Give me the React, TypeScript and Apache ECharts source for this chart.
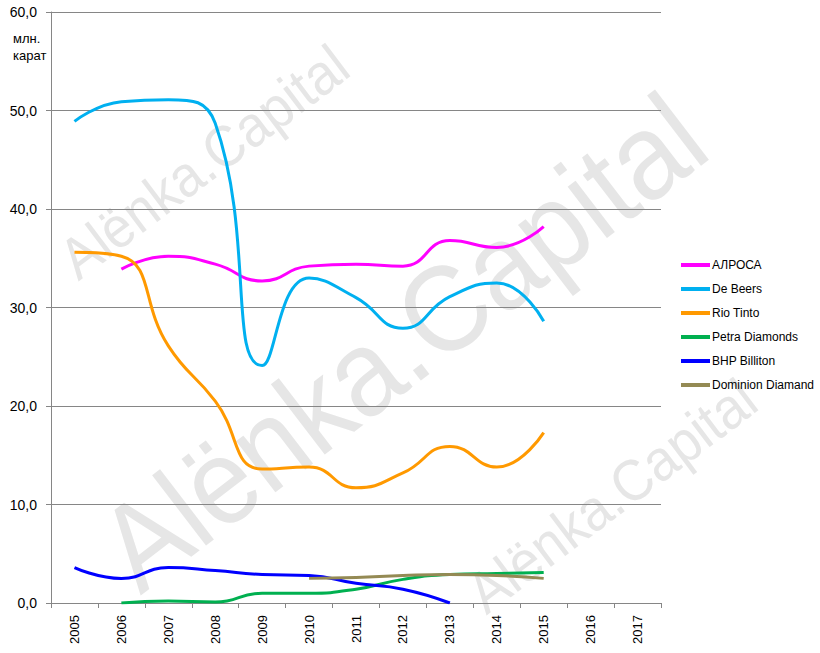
import React, { useEffect, useRef } from "react";
import * as echarts from "echarts";

const years = ["2005", "2006", "2007", "2008", "2009", "2010", "2011", "2012", "2013", "2014", "2015", "2016", "2017"];
const seriesNames = ["АЛРОСА", "De Beers", "Rio Tinto", "Petra Diamonds", "BHP Billiton", "Dominion Diamand"];
const seriesColors = ["#FF00FF", "#00B0F0", "#FF9900", "#00B050", "#0000FF", "#948A54"];
const alrosa = [null, 33.9, 35.2, 34.4, 32.7, 34.2, 34.4, 34.2, 36.8, 36.1, 38.2, null, null];
const deBeers = [48.9, 50.9, 51.1, 48.7, 24.1, 33.0, 31.0, 27.9, 31.1, 32.5, 28.6, null, null];
const rioTinto = [35.6, 35.2, 26.1, 20.5, 13.6, 13.8, 11.7, 13.2, 15.9, 13.8, 17.3, null, null];
const petra = [null, 0.0, 0.2, 0.1, 1.0, 1.0, 1.4, 2.4, 2.9, 3.0, 3.1, null, null];
const bhp = [3.6, 2.5, 3.6, 3.3, 2.9, 2.8, 2.0, 1.4, 0.0, null, null, null, null];
const dominion = [null, null, null, null, null, 2.5, 2.6, 2.8, 2.9, 2.8, 2.5, null, null];
const seriesData = [alrosa, deBeers, rioTinto, petra, bhp, dominion];
const unitLines = ["млн.", "карат"];
const watermarkText = "Alёnka.Capital";

export default function App() {
  const ref = useRef<HTMLDivElement>(null);
  useEffect(() => {
    if (!ref.current) return;
    const chart = echarts.init(ref.current, null, { renderer: "svg" });
    const wmStyle = (size: number) => ({
      text: watermarkText,
      fontSize: size,
      fontFamily: "Liberation Sans, Arial, sans-serif",
      fill: "#e6e6e6",
      align: "center",
      verticalAlign: "middle",
    });
    const deg = Math.PI / 180;
    chart.setOption({
      animation: false,
      backgroundColor: "#ffffff",
      grid: { left: 51, right: 159, top: 12, bottom: 50, containLabel: false },
      xAxis: {
        type: "category",
        data: years,
        boundaryGap: true,
        axisLine: { show: true, lineStyle: { color: "#868686", width: 1 } },
        axisTick: { show: true, length: 5, lineStyle: { color: "#868686" } },
        axisLabel: {
          rotate: 90,
          margin: 12,
          fontSize: 13,
          color: "#000",
          fontFamily: "Liberation Sans, Arial, sans-serif",
        },
        splitLine: { show: false },
      },
      yAxis: {
        type: "value",
        min: 0,
        max: 60,
        interval: 10,
        axisLine: { show: true, lineStyle: { color: "#868686", width: 1 } },
        axisTick: { show: true, length: 5, lineStyle: { color: "#868686" } },
        axisLabel: {
          margin: 14,
          fontSize: 14,
          color: "#000",
          fontFamily: "Liberation Sans, Arial, sans-serif",
          formatter: (v: number) => v.toFixed(1).replace(".", ","),
        },
        splitLine: { show: true, lineStyle: { color: "#868686", width: 1 } },
      },
      legend: {
        orient: "vertical",
        left: 681,
        top: 258,
        padding: 0,
        icon: "rect",
        itemWidth: 29,
        itemHeight: 4,
        itemGap: 10,
        data: seriesNames,
        textStyle: {
          fontSize: 12,
          lineHeight: 14,
          color: "#000",
          fontFamily: "Liberation Sans, Arial, sans-serif",
          padding: [0, 0, 0, -3],
        },
      },
      graphic: [
        { type: "text", x: 402, y: 342, rotation: 37.5 * deg, scaleX: 0.92, z: -10, silent: true, style: wmStyle(122) },
        { type: "text", x: 204, y: 162, rotation: 37 * deg, scaleX: 0.92, z: -10, silent: true, style: wmStyle(58) },
        { type: "text", x: 612, y: 496, rotation: 37 * deg, scaleX: 0.92, z: -10, silent: true, style: wmStyle(58) },
        {
          type: "text",
          left: 13,
          top: 30,
          z: 10,
          style: {
            text: unitLines.join("\n"),
            fontSize: 13,
            lineHeight: 17,
            fill: "#000",
            fontFamily: "Liberation Sans, Arial, sans-serif",
          },
        },
      ],
      series: seriesData.map((d, i) => ({
        name: seriesNames[i],
        type: "line",
        data: d,
        smooth: 0.5,
        showSymbol: false,
        symbol: "none",
        lineStyle: { color: seriesColors[i], width: 3 },
        itemStyle: { color: seriesColors[i] },
        z: 5,
      })),
    });
    return () => chart.dispose();
  }, []);
  return <div ref={ref} style={{ position: "fixed", left: 0, top: 0, width: 820, height: 653 }} />;
}
